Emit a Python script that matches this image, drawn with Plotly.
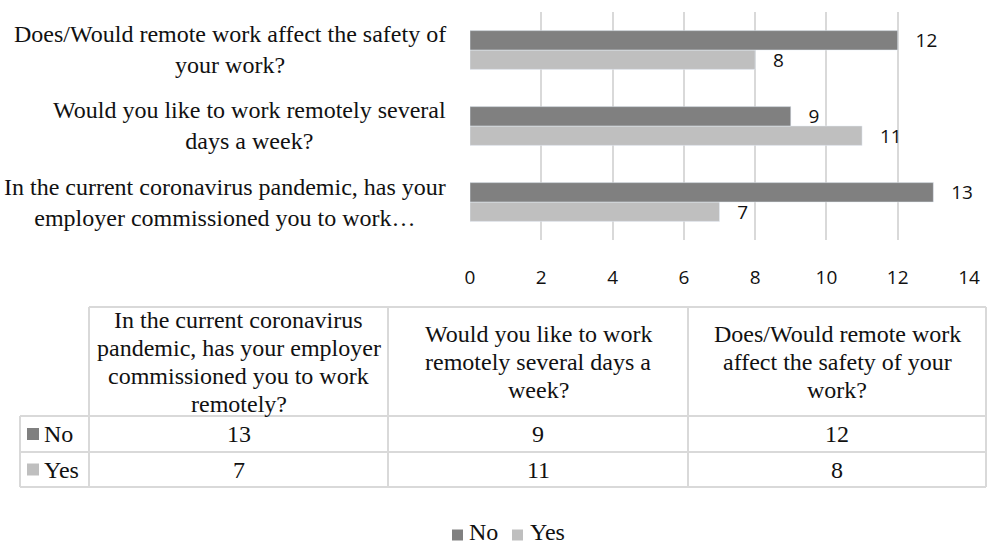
import plotly.graph_objects as go

W, H = 988, 547

categories = [
    "In the current coronavirus pandemic, has your employer commissioned you to work remotely?",
    "Would you like to work remotely several days a week?",
    "Does/Would remote work affect the safety of your work?",
]
axis_labels = [
    "In the current coronavirus pandemic, has your<br>employer commissioned you to work…",
    "Would you like to work remotely several<br>days a week?",
    "Does/Would remote work affect the safety of<br>your work?",
]
table_headers = [
    "In the current coronavirus<br>pandemic, has your employer<br>commissioned you to work<br>remotely?",
    "Would you like to work<br>remotely several days a<br>week?",
    "Does/Would remote work<br>affect the safety of your<br>work?",
]
series_names = ["No", "Yes"]
no_values = [13, 9, 12]
yes_values = [7, 11, 8]
x_ticks = [0, 2, 4, 6, 8, 10, 12, 14]

COL_NO = "#808080"
COL_YES = "#bfbfbf"
GRID = "#d9d9d9"
SERIF = "Liberation Serif"
SANS = "Open Sans"
TXT = "#111111"


def px(x):
    return x / W


def py(y):
    return (H - y) / H


pad = "\u00a0\u00a0\u00a0"

fig = go.Figure()
fig.add_trace(go.Bar(
    y=categories, x=yes_values, orientation="h", name=series_names[1],
    marker=dict(color=COL_YES),
    text=[pad + str(v) for v in yes_values], textposition="outside",
    textfont=dict(family=SANS, size=19, color=TXT),
    constraintext="none", cliponaxis=False, hoverinfo="x+name",
))
fig.add_trace(go.Bar(
    y=categories, x=no_values, orientation="h", name=series_names[0],
    marker=dict(color=COL_NO),
    text=[pad + str(v) for v in no_values], textposition="outside",
    textfont=dict(family=SANS, size=19, color=TXT),
    constraintext="none", cliponaxis=False, hoverinfo="x+name",
))

annotations = []
shapes = []

# category labels left of the bars
for cat, lab in zip(categories, axis_labels):
    annotations.append(dict(
        xref="paper", yref="y", x=px(448), y=cat, text=lab,
        xanchor="right", yanchor="middle", align="center", showarrow=False,
        font=dict(family=SERIF, size=24, color=TXT),
    ))

# ---- data table ----
col_edges = [89, 388, 688, 986]
left_x = 20
t_top, h_bot, r1_bot, r2_bot = 307, 416, 452, 487
line_style = dict(color=GRID, width=2)


def hline(x0, x1, y):
    shapes.append(dict(type="line", xref="paper", yref="paper",
                       x0=px(x0), x1=px(x1), y0=py(y), y1=py(y), line=line_style))


def vline(x, y0, y1):
    shapes.append(dict(type="line", xref="paper", yref="paper",
                       x0=px(x), x1=px(x), y0=py(y0), y1=py(y1), line=line_style))


hline(col_edges[0], col_edges[-1], t_top)
for yy in (h_bot, r1_bot, r2_bot):
    hline(left_x, col_edges[-1], yy)
vline(left_x, h_bot, r2_bot)
for xx in col_edges:
    vline(xx, t_top, r2_bot)

head_c = (t_top + h_bot) / 2
for j, header in enumerate(table_headers):
    lines = header.split("<br>")
    cx = (col_edges[j] + col_edges[j + 1]) / 2
    n = len(lines)
    for i, ln in enumerate(lines):
        annotations.append(dict(
            xref="paper", yref="paper", x=px(cx), y=py(head_c + (i - (n - 1) / 2) * 28),
            text=ln, xanchor="center", yanchor="middle", showarrow=False,
            font=dict(family=SERIF, size=24, color=TXT),
        ))

row_centers = [(h_bot + r1_bot) / 2, (r1_bot + r2_bot) / 2]
row_values = [no_values, yes_values]
row_colors = [COL_NO, COL_YES]
for r, (name, vals, col) in enumerate(zip(series_names, row_values, row_colors)):
    yc = row_centers[r]
    shapes.append(dict(type="rect", xref="paper", yref="paper",
                       x0=px(27), x1=px(39), y0=py(yc - 6), y1=py(yc + 6),
                       fillcolor=col, line=dict(width=0)))
    annotations.append(dict(
        xref="paper", yref="paper", x=px(42), y=py(yc), text=name,
        xanchor="left", yanchor="middle", showarrow=False,
        font=dict(family=SERIF, size=24, color=TXT),
    ))
    for j, v in enumerate(vals):
        cx = (col_edges[j] + col_edges[j + 1]) / 2
        annotations.append(dict(
            xref="paper", yref="paper", x=px(cx), y=py(yc), text=str(v),
            xanchor="center", yanchor="middle", showarrow=False,
            font=dict(family=SERIF, size=24, color=TXT),
        ))

# ---- legend below the table ----
sq_y = 535
leg_items = [(series_names[0], COL_NO, 452, 467), (series_names[1], COL_YES, 512, 528)]
for name, col, sx, tx in leg_items:
    shapes.append(dict(type="rect", xref="paper", yref="paper",
                       x0=px(sx), x1=px(sx + 11), y0=py(sq_y - 5.5), y1=py(sq_y + 5.5),
                       fillcolor=col, line=dict(width=0)))
    annotations.append(dict(
        xref="paper", yref="paper", x=px(tx), y=0, text=name,
        xanchor="left", yanchor="bottom", showarrow=False,
        font=dict(family=SERIF, size=24, color=TXT),
    ))

fig.update_layout(
    width=W, height=H,
    margin=dict(l=0, r=0, t=0, b=0),
    paper_bgcolor="white", plot_bgcolor="white",
    barmode="group", bargap=0.49, bargroupgap=0,
    xaxis=dict(
        domain=[px(470), px(969)], range=[0, 14],
        tickvals=x_ticks, ticktext=[str(t) for t in x_ticks],
        showgrid=True, gridcolor=GRID, gridwidth=1.5,
        zeroline=False, showline=False, ticks="",
        ticklabelstandoff=24, automargin=False,
        tickfont=dict(family=SANS, size=19, color=TXT),
    ),
    yaxis=dict(
        domain=[py(240), py(12)],
        categoryorder="array", categoryarray=categories,
        showticklabels=False, showgrid=False, zeroline=False, showline=False,
        ticks="", automargin=False,
    ),
    showlegend=False,
    annotations=annotations,
    shapes=shapes,
)

fig.write_html(
    "out.html",
    config={"displayModeBar": False},
    post_script="document.body.style.margin='0px';document.body.style.overflow='hidden';",
)
